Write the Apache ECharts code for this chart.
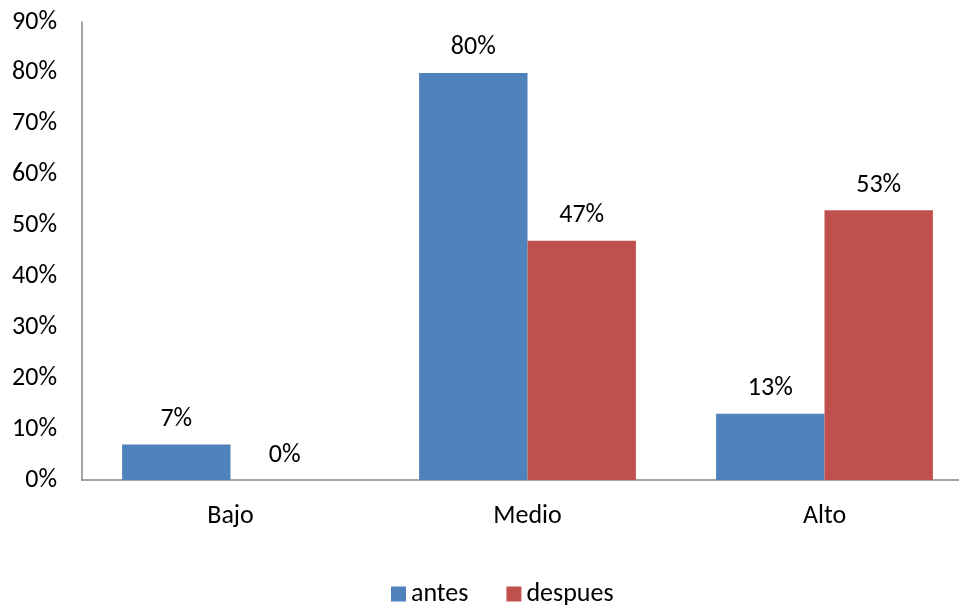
<!DOCTYPE html>
<html>
<head>
<meta charset="utf-8">
<script src="https://cdn.jsdelivr.net/npm/echarts@6/dist/echarts.min.js"></script>
<style>
html, body { margin: 0; padding: 0; background: #fff; overflow: hidden; width: 959px; height: 605px; }
#chart { width: 975px; height: 605px; }
</style>
</head>
<body>
<div id="chart"></div>
<script>
const categories = ['Bajo', 'Medio', 'Alto'];
const antes = [7, 80, 13];
const despues = [0, 47, 53];
const yTicks = [0, 10, 20, 30, 40, 50, 60, 70, 80, 90];

const FONT = 'Carlito, Calibri, "Liberation Sans", sans-serif';
const chart = echarts.init(document.getElementById('chart'), null, { renderer: 'canvas' });

const labelStyle = {
  show: true,
  position: 'top',
  distance: 12,
  formatter: p => p.value + '%',
  color: '#000',
  fontFamily: FONT,
  fontSize: 26
};

chart.setOption({
  animation: false,
  textStyle: { fontFamily: FONT },
  grid: { left: 82, top: 22, width: 891, height: 458, containLabel: false },
  legend: {
    top: 576,
    left: 386,
    itemWidth: 15,
    itemHeight: 15,
    itemGap: 38,
    icon: 'rect',
    textStyle: { fontFamily: FONT, fontSize: 26, color: '#000' },
    data: ['antes', 'despues']
  },
  xAxis: {
    type: 'category',
    data: categories,
    axisLine: { lineStyle: { color: '#868686', width: 1.5 } },
    axisTick: { show: false },
    axisLabel: { color: '#000', fontFamily: FONT, fontSize: 26, margin: 23 }
  },
  yAxis: {
    type: 'value',
    min: yTicks[0],
    max: yTicks[yTicks.length - 1],
    interval: 10,
    axisLine: { show: true, lineStyle: { color: '#868686', width: 1.5 } },
    axisTick: { show: false },
    splitLine: { show: false },
    axisLabel: { color: '#000', fontFamily: FONT, fontSize: 26, margin: 25, formatter: v => v + '%' }
  },
  series: [
    {
      name: 'antes', type: 'bar', data: antes,
      barGap: '0%', barCategoryGap: '27%',
      itemStyle: { color: '#4F81BD' },
      label: labelStyle
    },
    {
      name: 'despues', type: 'bar', data: despues,
      barGap: '0%', barCategoryGap: '27%',
      itemStyle: { color: '#C0504D' },
      label: labelStyle
    }
  ]
});
</script>
</body>
</html>
